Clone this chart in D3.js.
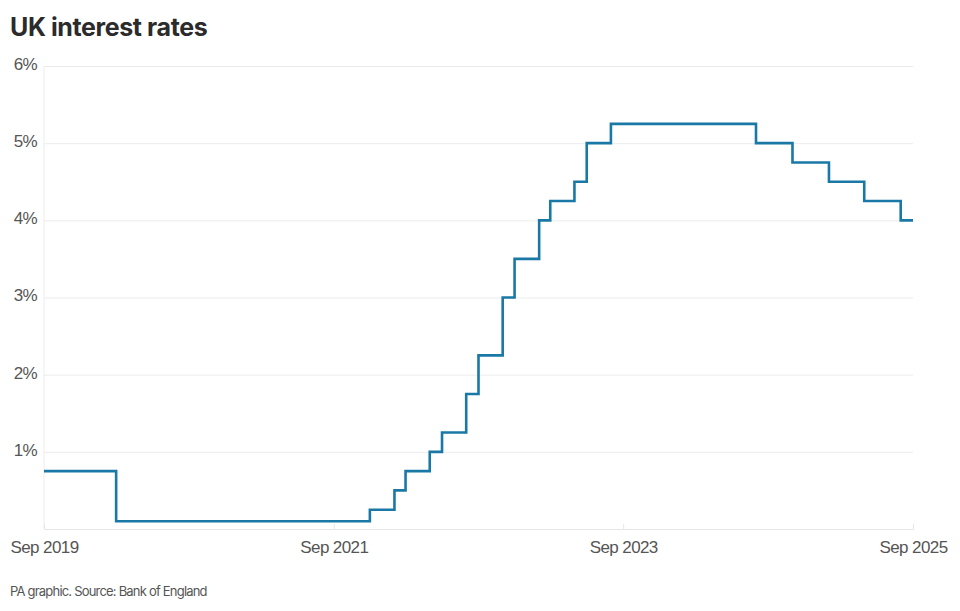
<html>
<head>
<script src="https://cdn.jsdelivr.net/npm/d3@7"></script>
<style>
    body {
        margin: 0;
        background: #fff;
        font-family: Inter, "Noto Sans", sans-serif;
    }
    svg {
        display: block;
    }
    .title {
        font-size: 25px;
        font-weight: 700;
        fill: #2b2b2b;
        letter-spacing: -0.4px;
    }
    .tick text {
        font-size: 17px;
        fill: #555;
        letter-spacing: -0.6px;
    }
    .source {
        font-size: 13px;
        fill: #555;
        letter-spacing: -0.8px;
    }
</style>
</head>
<body>

<svg id='chart' width=960 height=611></svg>

<script>

    // Bank Rate, month in which each rate took effect (monthly series)
    var changeMonths = ['2019-09', '2020-03', '2021-12', '2022-02', '2022-03', '2022-05',
                        '2022-06', '2022-08', '2022-09', '2022-11', '2022-12', '2023-02',
                        '2023-03', '2023-05', '2023-06', '2023-08', '2024-08', '2024-11',
                        '2025-02', '2025-05', '2025-08', '2025-09'];
    var rates = [0.75, 0.1, 0.25, 0.5, 0.75, 1.0,
                 1.25, 1.75, 2.25, 3.0, 3.5, 4.0,
                 4.25, 4.5, 5.0, 5.25, 5.0, 4.75,
                 4.5, 4.25, 4.0, 4.0];

    var xTickMonths = ['2019-09', '2021-09', '2023-09', '2025-09'];
    var yTicks = [1, 2, 3, 4, 5, 6];

    var parseMonth = d3.timeParse('%Y-%m');
    var data = changeMonths.map(function(m, i) {
        return { date: parseMonth(m), rate: rates[i] };
    });

    var svg = d3.select('#chart');
    var margin = { top: 66, right: 47, bottom: 82, left: 44 };
    var width = +svg.attr('width') - margin.left - margin.right,
        height = +svg.attr('height') - margin.top - margin.bottom;

    var x = d3.scaleTime()
        .domain([parseMonth('2019-09'), parseMonth('2025-09')])
        .range([0, width]);

    var y = d3.scaleLinear()
        .domain([0, 6])
        .range([height, 0]);

    svg.append('text')
        .attr('class', 'title')
        .attr('x', 10)
        .attr('y', 36)
        .text('UK interest rates');

    var g = svg.append('g')
        .attr('transform', 'translate(' + margin.left + ',' + margin.top + ')');

    // gridlines + labels
    var yAxis = g.append('g')
        .call(d3.axisLeft(y)
            .tickValues(yTicks)
            .tickSize(-width)
            .tickPadding(7)
            .tickFormat(function(d) { return d + '%'; }));
    yAxis.select('.domain').remove();
    yAxis.selectAll('.tick line').attr('stroke', '#ececec');
    yAxis.selectAll('.tick text').attr('dy', '0.2em');

    g.append('line')
        .attr('x1', 0).attr('x2', 0)
        .attr('y1', 0).attr('y2', height)
        .attr('stroke', '#ececec');

    var xAxis = g.append('g')
        .attr('transform', 'translate(0,' + height + ')')
        .call(d3.axisBottom(x)
            .tickValues(xTickMonths.map(parseMonth))
            .tickSize(-5)
            .tickPadding(12)
            .tickFormat(d3.timeFormat('%b %Y')));
    xAxis.select('.domain').attr('stroke', '#e6e6e6');
    xAxis.selectAll('.tick line').attr('stroke', '#e6e6e6');

    var line = d3.line()
        .curve(d3.curveStepAfter)
        .x(function(d) { return x(d.date); })
        .y(function(d) { return y(d.rate); });

    g.append('path')
        .datum(data)
        .attr('fill', 'none')
        .attr('stroke', '#1a78a6')
        .attr('stroke-width', 2.6)
        .attr('d', line);

    svg.append('text')
        .attr('class', 'source')
        .attr('x', 10)
        .attr('y', 596)
        .text('PA graphic. Source: Bank of England');

</script>
</body>
</html>
